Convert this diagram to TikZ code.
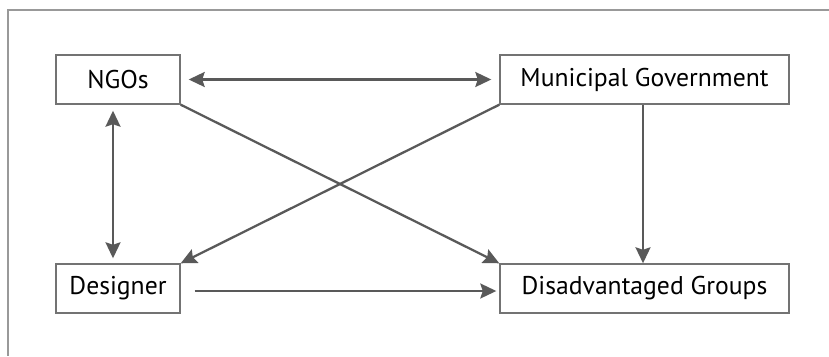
\documentclass[tikz,border=0pt]{standalone}
\usepackage{fontspec}
\setmainfont{PT Sans}
\usetikzlibrary{arrows.meta}

\begin{document}
\begin{tikzpicture}[
  box/.style={draw=black!55,line width=0.8pt,fill=white,minimum height=0.98cm,font=\fontsize{14.6}{17}\selectfont},
  link/.style={draw=black!65,line width=1.3pt,-{Stealth[length=0.32cm,width=0.3cm,inset=0.05cm]}},
  both/.style={link,{Stealth[length=0.32cm,width=0.3cm,inset=0.05cm]}-{Stealth[length=0.32cm,width=0.3cm,inset=0.05cm]}}
]

\useasboundingbox (0,0) rectangle (16.58,7.12);
\draw [black!40, line width=0.6pt] (16.58,6.92) -- (0.16,6.92) -- (0.16,0);

\node (NGO) at (2.36,5.53) [box,minimum width=2.48cm] {NGOs};
\node (MG) at (12.89,5.53) [box,minimum width=5.78cm] {Municipal Government};
\node (DES) at (2.36,1.35) [box,minimum width=2.48cm] {Designer};
\node (DG) at (12.89,1.35) [box,minimum width=5.78cm] {Disadvantaged Groups};

\draw [both, shorten <=0.16cm, shorten >=0.16cm] (NGO.east) -- (MG.west);
\draw [both, shorten <=0.12cm, shorten >=0.1cm] ([xshift=-0.1cm]NGO.south) -- ([xshift=-0.1cm]DES.north);
\draw [link] (NGO.south east) -- (DG.north west);
\draw [link] (MG.south west) -- (DES.north east);
\draw [link] ([xshift=-0.03cm]MG.south) -- ([xshift=-0.03cm]DG.north);
\draw [link, shorten <=0.28cm, shorten >=0.06cm] ([yshift=-0.05cm]DES.east) -- ([yshift=-0.05cm]DG.west);

\end{tikzpicture}
\end{document}
